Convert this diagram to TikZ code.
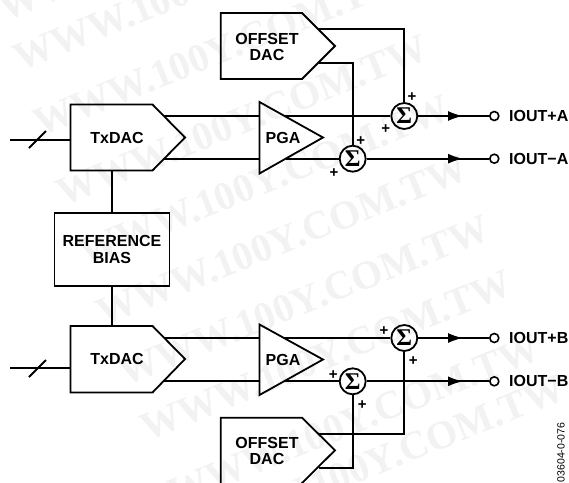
\documentclass[tikz,border=0pt]{standalone}
\usepackage{fontspec}
\setmainfont{Liberation Sans}
\newfontfamily\wmfont{Liberation Serif}
\usetikzlibrary{arrows.meta}
\tikzset{
  wire/.style={line width=1.8pt,line cap=butt,line join=miter},
  shapeline/.style={line width=1.8pt,line join=miter},
  lbl/.style={inner sep=0pt,font=\fontsize{16}{16.5}\selectfont\bfseries,align=center,text=black},
  sumnode/.style={circle,draw,line width=1.8pt,minimum size=26pt,inner sep=0pt,font=\fontsize{24}{24}\selectfont\wmfont\bfseries},
  pad/.style={circle,draw,line width=1.6pt,minimum size=9pt,inner sep=0pt,fill=white},
  plus/.style={inner sep=0pt,font=\fontsize{15}{15}\selectfont\bfseries},
  outlbl/.style={inner sep=0pt,anchor=west,font=\fontsize{16}{16}\selectfont\bfseries},
  flow/.style={line width=1.8pt,-{Latex[length=15pt,width=10pt]}},
  wm/.style={anchor=base west,inner sep=0pt,rotate=22,text=black!5,font=\fontsize{40}{40}\selectfont\wmfont\bfseries}
}
\begin{document}
\begin{tikzpicture}[x=1pt,y=-1pt]
\useasboundingbox[fill=white] (0,0) rectangle (569,482);
\begin{scope}
\clip (0,0) rectangle (569,482);
% watermark
\node[wm] (w0) at (5,22) {WWW.100Y.COM.TW};
\node[wm] (w1) at (20,72) {WWW.100Y.COM.TW};
\node[wm] (w2) at (40,137) {WWW.100Y.COM.TW};
\node[wm] (w3) at (63,207) {WWW.100Y.COM.TW};
\node[wm] (w4) at (85,267) {WWW.100Y.COM.TW};
\node[wm] (w5) at (103,327) {WWW.100Y.COM.TW};
\node[wm] (w6) at (125,387) {WWW.100Y.COM.TW};
\node[wm] (w7) at (147,442) {WWW.100Y.COM.TW};
\node[wm] (w8) at (175,507) {WWW.100Y.COM.TW};
\node[wm] (w9) at (200,547) {WWW.100Y.COM.TW};
% upper TxDAC
\draw[shapeline] (70.5,104.5) -- (152.5,104.5) -- (185,137.5) -- (152.5,170.5) -- (70.5,170.5) -- cycle;
\node[lbl] (t1) at (117,138) {TxDAC};
\coordinate (t1in) at (70.5,140);
\coordinate (t1a) at (163.8,116);
\coordinate (t1b) at (163.3,159);
\coordinate (t1ref) at (112,170.5);
\coordinate (i1) at (10,140);
\coordinate (sl1a) at (29,148);
\coordinate (sl1b) at (46,131);
% lower TxDAC
\draw[shapeline] (70.5,326) -- (152.5,326) -- (185,359) -- (152.5,392.5) -- (70.5,392.5) -- cycle;
\node[lbl] (t2) at (117,359) {TxDAC};
\coordinate (t2in) at (70.5,368.3);
\coordinate (t2a) at (164,338);
\coordinate (t2b) at (163.5,381.3);
\coordinate (t2ref) at (112,326);
\coordinate (i2) at (10,368.3);
\coordinate (sl2a) at (29,377);
\coordinate (sl2b) at (46,360);
% reference
\node[draw,line width=1.8pt,minimum width=115pt,minimum height=72.5pt,inner sep=0pt,lbl] (ref) at (112,249.5) {REFERENCE\\BIAS};
% upper offset DAC
\draw[shapeline] (220.7,13) -- (302,13) -- (335,46) -- (302,79) -- (220.7,79) -- cycle;
\node[lbl] (o1) at (267,47) {OFFSET\\DAC};
\coordinate (o1a) at (318,28.7);
\coordinate (o1b) at (318.5,62.7);
% lower offset DAC
\draw[shapeline] (220.7,490) -- (220.7,417.7) -- (302,417.7) -- (335,450.3) -- (302,483) -- (296,490);
\node[lbl] (o2) at (267,451) {OFFSET\\DAC};
\coordinate (o2a) at (318,433.7);
\coordinate (o2b) at (318.5,467.7);
% PGAs
\draw[shapeline] (259.5,102) -- (323,137.5) -- (259.5,173.5) -- cycle;
\node[lbl] (p1) at (283,137.5) {PGA};
\coordinate (p1ai) at (259.5,116);
\coordinate (p1bi) at (259.5,159);
\coordinate (p1ao) at (285,116);
\coordinate (p1bo) at (286,158.7);
\draw[shapeline] (259.5,324.5) -- (323,359.5) -- (259.5,395) -- cycle;
\node[lbl] (p2) at (283,360) {PGA};
\coordinate (p2ai) at (259.5,338);
\coordinate (p2bi) at (259.5,381.3);
\coordinate (p2ao) at (284,338);
\coordinate (p2bo) at (284,381.3);
% summers
\node[sumnode] (s1) at (404.3,116) {Σ};
\node[sumnode] (s2) at (352.7,158.7) {Σ};
\node[sumnode] (s3) at (404.3,338) {Σ};
\node[sumnode] (s4) at (352.7,381.3) {Σ};
% plus signs
\node[plus] (pa) at (412,96.7) {+};
\node[plus] (pb) at (385.7,129.3) {+};
\node[plus] (pc) at (360.7,141) {+};
\node[plus] (pd) at (334,173) {+};
\node[plus] (pe) at (384,331) {+};
\node[plus] (pf) at (413.3,361) {+};
\node[plus] (pg) at (333.3,375) {+};
\node[plus] (ph) at (362.3,405) {+};
% outputs
\node[pad] (q1) at (494.3,116) {};
\node[pad] (q2) at (494.3,158.7) {};
\node[pad] (q3) at (494.3,338) {};
\node[pad] (q4) at (494.3,381.3) {};
\node[outlbl] (l1) at (509,116) {IOUT+A};
\node[outlbl] (l2) at (509,158.7) {IOUT−A};
\node[outlbl] (l3) at (509,338) {IOUT+B};
\node[outlbl] (l4) at (509,381.3) {IOUT−B};
\coordinate (a1) at (463,116);
\coordinate (a2) at (463,158.7);
\coordinate (a3) at (463,338);
\coordinate (a4) at (463,381.3);
% connectors
\draw[wire] (i1) -- (t1in);
\draw[wire] (sl1a) -- (sl1b);
\draw[wire] (i2) -- (t2in);
\draw[wire] (sl2a) -- (sl2b);
\draw[wire] (t1ref) -- (ref.north -| t1ref);
\draw[wire] (ref.south -| t2ref) -- (t2ref);
\draw[wire] (t1a) -- (p1ai);
\draw[wire] (t1b) -- (p1bi);
\draw[wire] (t2a) -- (p2ai);
\draw[wire] (t2b) -- (p2bi);
\draw[wire] (p1ao) -- (s1.west);
\draw[wire] (p1bo) -- (s2.west);
\draw[wire] (p2ao) -- (s3.west);
\draw[wire] (p2bo) -- (s4.west);
\draw[wire] (o1a) -| (s1.north);
\draw[wire] (o1b) -| (s2.north);
\draw[wire] (o2a) -| (s3.south);
\draw[wire] (o2b) -| (s4.south);
\draw[wire] (s1.east) -- (q1.west);
\draw[wire] (s2.east) -- (q2.west);
\draw[wire] (s3.east) -- (q3.west);
\draw[wire] (s4.east) -- (q4.west);
\draw[flow] (s1.east) -- (a1);
\draw[flow] (s2.east) -- (a2);
\draw[flow] (s3.east) -- (a3);
\draw[flow] (s4.east) -- (a4);
\node[rotate=90,anchor=west,inner sep=0pt,font=\fontsize{10.5}{10.5}\selectfont] (code) at (561,482.5) {03604-0-076};
\end{scope}
\end{tikzpicture}
\end{document}
